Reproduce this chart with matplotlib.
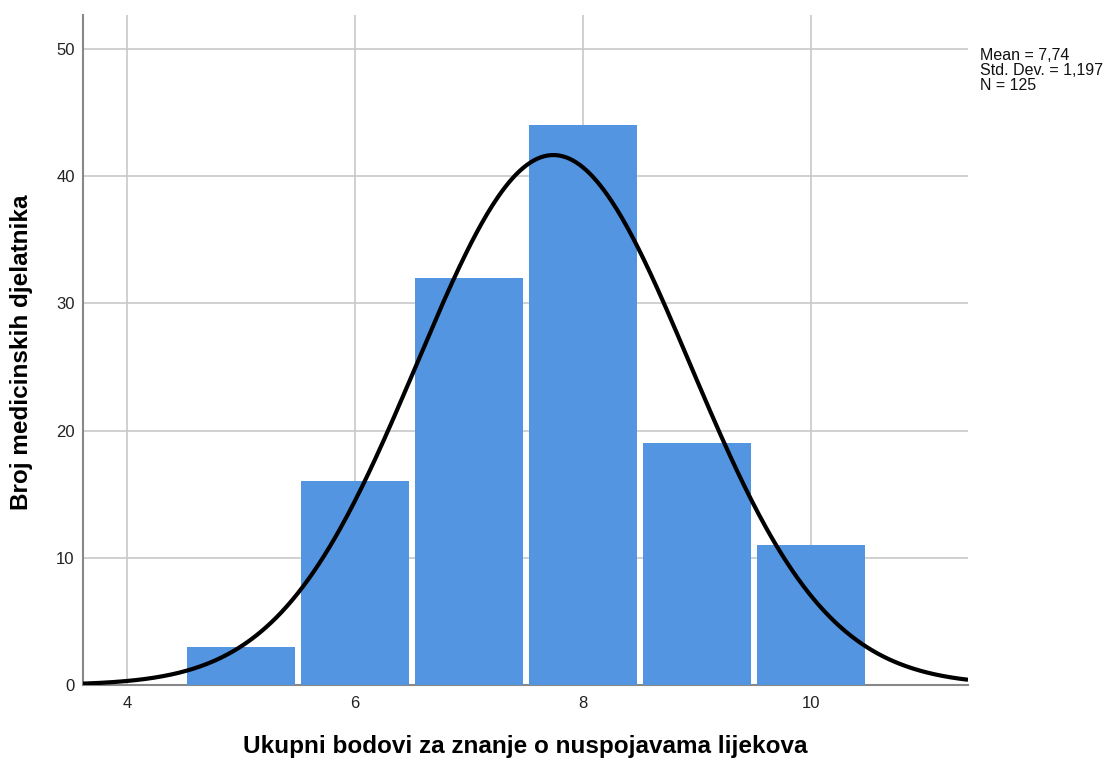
import numpy as np
import matplotlib
matplotlib.use("Agg")
import matplotlib.pyplot as plt

plt.rcParams['font.family'] = ['Liberation Sans', 'DejaVu Sans']

bin_centers = [5, 6, 7, 8, 9, 10]
counts = [3, 16, 32, 44, 19, 11]
mean = 7.74
std = 1.197
n = 125
x_ticks = [4, 6, 8, 10]
y_ticks = [0, 10, 20, 30, 40, 50]
stats_text = "Mean = 7,74\nStd. Dev. = 1,197\nN = 125"
xlabel = "Ukupni bodovi za znanje o nuspojavama lijekova"
ylabel = "Broj medicinskih djelatnika"

W, H = 1110, 760
fig = plt.figure(figsize=(W / 100, H / 100), dpi=100)
ax = fig.add_axes([83 / W, 1 - 685 / H, (968 - 83) / W, (685 - 15) / H])

ax.set_xlim(3.614, 11.377)
ax.set_ylim(0, 52.67)

ax.grid(True, color='#c8c8c8', linewidth=1.2, zorder=0)
ax.set_axisbelow(True)

ax.bar(bin_centers, counts, width=0.94, color='#5495e2', edgecolor='none', zorder=2)

xs = np.linspace(3.614, 11.377, 500)
ys = n * 1.0 * np.exp(-0.5 * ((xs - mean) / std) ** 2) / (std * np.sqrt(2 * np.pi))
ax.plot(xs, ys, color='black', linewidth=3.0, zorder=3, solid_capstyle='butt')

ax.set_xticks(x_ticks)
ax.set_yticks(y_ticks)
ax.tick_params(axis='both', length=0, labelsize=12, colors='#222222')
ax.tick_params(axis='x', pad=8)
ax.tick_params(axis='y', pad=6)

for s in ['top', 'right']:
    ax.spines[s].set_visible(False)
ax.spines['left'].set_color('#888888')
ax.spines['left'].set_linewidth(1.5)
ax.spines['bottom'].set_color('#888888')
ax.spines['bottom'].set_linewidth(1.5)
ax.spines['bottom'].set_zorder(1)

fig.text(525 / W, 1 - 747 / H, xlabel, fontsize=17.5, fontweight='bold',
         ha='center', va='center')
fig.text(22 / W, 1 - 352 / H, ylabel, fontsize=17.5, fontweight='bold',
         ha='center', va='center', rotation=90)

fig.text(980 / W, 1 - 48 / H, stats_text, fontsize=11.5, va='top', ha='left',
         linespacing=1.0, color='#111111')

fig.savefig('out.png', dpi=100)
